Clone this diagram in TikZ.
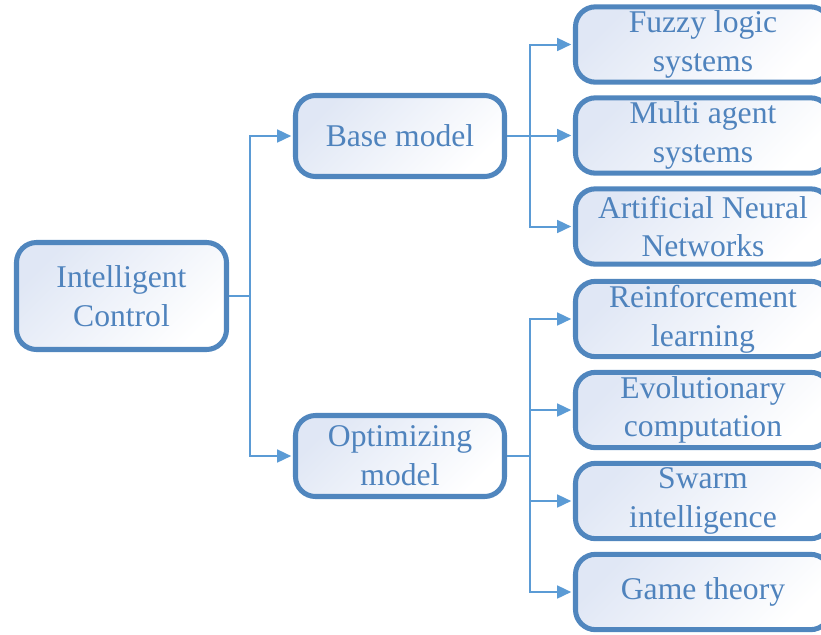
\documentclass[tikz,border=0pt]{standalone}
\usepackage{fontspec}
\setmainfont{Liberation Serif}
\usepackage{tikz}
\usetikzlibrary{arrows.meta,positioning,calc}
\definecolor{boxline}{RGB}{80, 134, 190}
\definecolor{boxtext}{RGB}{79, 131, 189}
\definecolor{linkline}{RGB}{91, 155, 213}
\definecolor{boxfill}{RGB}{224, 231, 245}

\begin{document}
\begin{tikzpicture}[x=0.03cm, y=-0.03cm,
  box/.style={draw=boxline, line width=4.3pt, rounded corners=0.6cm,
    top color=boxfill, bottom color=white, shading angle=45,
    text=boxtext, align=center, inner sep=0pt,
    font=\fontsize{27}{33}\selectfont},
  rootbox/.style={box, minimum width=6.3cm, minimum height=3.21cm},
  midbox/.style={box, minimum width=6.27cm, minimum height=2.43cm},
  leafbox/.style={box, minimum width=7.65cm, minimum height=2.26cm},
  link/.style={draw=linkline, line width=1.7pt,
    -{Triangle[length=12pt,width=11pt]}, shorten >=1.5pt}]
  \useasboundingbox (0,0) rectangle (821,634);
  \clip (0,0) rectangle (821,634);
  % boxes
  \node[rootbox] (ic)   at (121.5,296) {Intelligent\\Control};
  \node[midbox]  (base) at (400,136) {Base model};
  \node[midbox]  (opt)  at (400,456) {Optimizing\\model};
  \node[leafbox] (fls)  at (703,44.5)  {Fuzzy logic\\systems};
  \node[leafbox] (mas)  at (703,135.5) {Multi agent\\systems};
  \node[leafbox] (ann)  at (703,226.5) {Artificial Neural\\Networks};
  \node[leafbox] (rl)   at (703,319) {Reinforcement\\learning};
  \node[leafbox] (ec)   at (703,410) {Evolutionary\\computation};
  \node[leafbox] (si)   at (703,501) {Swarm\\intelligence};
  \node[leafbox] (gt)   at (703,592) {Game theory};
  % links
  \draw[link] (ic.east) -- ++(21,0) |- (base.west);
  \draw[link] (ic.east) -- ++(21,0) |- (opt.west);
  \foreach \leaf in {fls,mas,ann}
    \draw[link] (base.east) -- ++(23,0) |- (\leaf.west);
  \foreach \leaf in {rl,ec,si,gt}
    \draw[link] (opt.east) -- ++(23,0) |- (\leaf.west);
\end{tikzpicture}
\end{document}
